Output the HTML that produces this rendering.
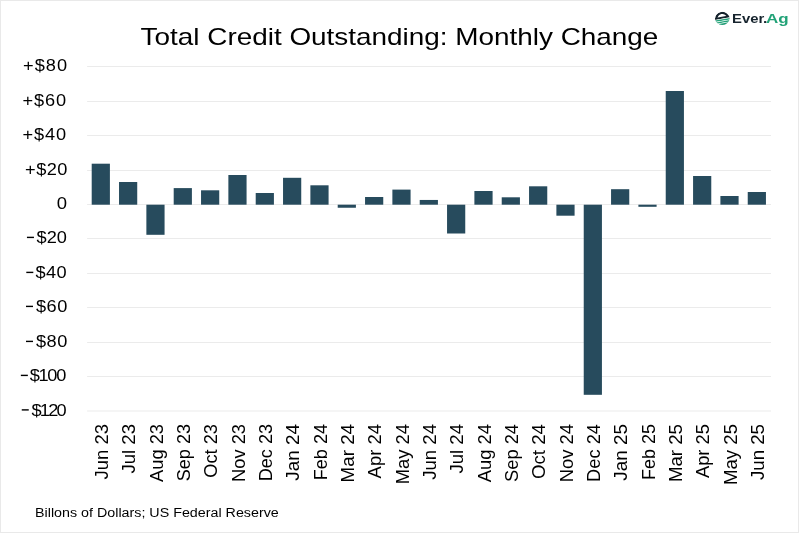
<!DOCTYPE html>
<html><head><meta charset="utf-8"><style>
html,body{margin:0;padding:0;}
body{width:799px;height:533px;position:relative;overflow:hidden;background:#fff;font-family:"Liberation Sans",sans-serif;color:#000;}
.frame{position:absolute;left:0;top:0;width:797px;height:531px;border:1px solid #e9e9e9;}
.title,.yl,.xl,.foot,.mn{filter:grayscale(1);}
.title{position:absolute;left:0px;width:799px;top:21.9px;text-align:center;font-size:24px;line-height:30px;white-space:nowrap;transform:scaleX(1.162);transform-origin:399.5px 50%;letter-spacing:0px;}
.yl{position:absolute;right:732.60px;width:100px;text-align:right;font-size:17px;line-height:20px;white-space:nowrap;transform-origin:100% 50%;}
.mn{position:absolute;width:7.0px;height:1.4px;background:#000;}
.xl{position:absolute;top:414.25px;width:100px;height:20px;text-align:right;font-size:17.5px;line-height:20px;white-space:nowrap;transform-origin:100% 50%;}
.foot{position:absolute;left:35px;top:504.9px;font-size:12.5px;line-height:16px;white-space:nowrap;transform:scaleX(1.143);transform-origin:0 50%;}
svg.c{position:absolute;left:0;top:0;}
.logo{position:absolute;left:712px;top:8px;}
.brand{position:absolute;left:731.9px;top:10.5px;font-size:13.5px;line-height:16px;font-weight:bold;white-space:nowrap;letter-spacing:0px;transform:scaleX(1.16);transform-origin:0 50%;}
.brand.d{color:#17242e;} .brand.g{color:#21a277;}
</style></head><body>
<div class="frame"></div>
<svg class="c" width="799" height="533" viewBox="0 0 799 533">
<rect x="87.13" y="66.00" width="683.87" height="1" fill="#ebebeb"/>
<rect x="87.13" y="101.00" width="683.87" height="1" fill="#ebebeb"/>
<rect x="87.13" y="135.00" width="683.87" height="1" fill="#ebebeb"/>
<rect x="87.13" y="170.00" width="683.87" height="1" fill="#ebebeb"/>
<rect x="87.13" y="204.00" width="683.87" height="1" fill="#ebebeb"/>
<rect x="87.13" y="238.00" width="683.87" height="1" fill="#ebebeb"/>
<rect x="87.13" y="273.00" width="683.87" height="1" fill="#ebebeb"/>
<rect x="87.13" y="307.00" width="683.87" height="1" fill="#ebebeb"/>
<rect x="87.13" y="342.00" width="683.87" height="1" fill="#ebebeb"/>
<rect x="87.13" y="376.00" width="683.87" height="1" fill="#ebebeb"/>
<rect x="87.13" y="410.50" width="683.87" height="1" fill="#ebebeb"/>
<rect x="91.70" y="163.70" width="18.2" height="41.00" fill="#274b5d"/>
<rect x="119.03" y="182.00" width="18.2" height="22.70" fill="#274b5d"/>
<rect x="146.37" y="204.70" width="18.2" height="30.10" fill="#274b5d"/>
<rect x="173.70" y="188.10" width="18.2" height="16.60" fill="#274b5d"/>
<rect x="201.04" y="190.30" width="18.2" height="14.40" fill="#274b5d"/>
<rect x="228.37" y="175.00" width="18.2" height="29.70" fill="#274b5d"/>
<rect x="255.71" y="193.00" width="18.2" height="11.70" fill="#274b5d"/>
<rect x="283.04" y="177.80" width="18.2" height="26.90" fill="#274b5d"/>
<rect x="310.38" y="185.30" width="18.2" height="19.40" fill="#274b5d"/>
<rect x="337.71" y="204.70" width="18.2" height="3.05" fill="#274b5d"/>
<rect x="365.05" y="197.00" width="18.2" height="7.70" fill="#274b5d"/>
<rect x="392.38" y="189.60" width="18.2" height="15.10" fill="#274b5d"/>
<rect x="419.72" y="199.95" width="18.2" height="4.75" fill="#274b5d"/>
<rect x="447.05" y="204.70" width="18.2" height="28.80" fill="#274b5d"/>
<rect x="474.39" y="191.00" width="18.2" height="13.70" fill="#274b5d"/>
<rect x="501.72" y="197.30" width="18.2" height="7.40" fill="#274b5d"/>
<rect x="529.06" y="186.30" width="18.2" height="18.40" fill="#274b5d"/>
<rect x="556.39" y="204.70" width="18.2" height="11.00" fill="#274b5d"/>
<rect x="583.73" y="204.70" width="18.2" height="190.10" fill="#274b5d"/>
<rect x="611.06" y="189.20" width="18.2" height="15.50" fill="#274b5d"/>
<rect x="638.40" y="204.70" width="18.2" height="2.10" fill="#274b5d"/>
<rect x="665.73" y="91.00" width="18.2" height="113.70" fill="#274b5d"/>
<rect x="693.07" y="176.00" width="18.2" height="28.70" fill="#274b5d"/>
<rect x="720.40" y="196.00" width="18.2" height="8.70" fill="#274b5d"/>
<rect x="747.74" y="192.00" width="18.2" height="12.70" fill="#274b5d"/>
<rect x="26.95" y="236.70" width="7.0" height="1.4" fill="#000"/>
<rect x="26.30" y="271.70" width="7.0" height="1.4" fill="#000"/>
<rect x="26.00" y="305.70" width="7.0" height="1.4" fill="#000"/>
<rect x="26.00" y="340.70" width="7.0" height="1.4" fill="#000"/>
<rect x="20.85" y="374.70" width="7.0" height="1.4" fill="#000"/>
<rect x="21.75" y="409.20" width="7.0" height="1.4" fill="#000"/>
</svg>
<div class="title">Total Credit Outstanding: Monthly Change</div>
<div class="yl" style="top:56.00px;transform:scaleX(1.0700);letter-spacing:0.912px;margin-right:-1.650px">+$80</div>
<div class="yl" style="top:90.50px;transform:scaleX(1.0700);letter-spacing:0.845px;margin-right:-1.070px">+$60</div>
<div class="yl" style="top:124.50px;transform:scaleX(1.0700);letter-spacing:0.845px;margin-right:-1.070px">+$40</div>
<div class="yl" style="top:159.50px;transform:scaleX(1.0700);letter-spacing:0.473px;margin-right:-1.286px">+$20</div>
<div class="yl" style="top:193.50px;transform:scaleX(1.0900);letter-spacing:0.000px;margin-right:-0.344px">0</div>
<div class="yl" style="top:227.50px;transform:scaleX(1.0700);letter-spacing:0.005px;margin-right:-0.329px">$20</div>
<div class="yl" style="top:262.50px;transform:scaleX(1.0700);letter-spacing:0.365px;margin-right:-0.745px">$40</div>
<div class="yl" style="top:296.50px;transform:scaleX(1.0700);letter-spacing:0.534px;margin-right:-1.362px">$60</div>
<div class="yl" style="top:331.50px;transform:scaleX(1.0700);letter-spacing:0.534px;margin-right:-1.362px">$80</div>
<div class="yl" style="top:365.50px;transform:scaleX(1.0700);letter-spacing:-1.209px;margin-right:1.024px">$100</div>
<div class="yl" style="top:400.80px;transform:scaleX(1.0700);letter-spacing:-1.612px;margin-right:1.587px">$120</div>
<div class="xl" style="left:2.10px;transform:rotate(-90deg) scaleX(1.0559)">Jun 23</div>
<div class="xl" style="left:29.43px;transform:rotate(-90deg) scaleX(1.0611)">Jul 23</div>
<div class="xl" style="left:56.76px;transform:rotate(-90deg) scaleX(1.0435)">Aug 23</div>
<div class="xl" style="left:84.09px;transform:rotate(-90deg) scaleX(1.0330)">Sep 23</div>
<div class="xl" style="left:111.42px;transform:rotate(-90deg) scaleX(1.0430)">Oct 23</div>
<div class="xl" style="left:138.75px;transform:rotate(-90deg) scaleX(1.0443)">Nov 23</div>
<div class="xl" style="left:166.08px;transform:rotate(-90deg) scaleX(1.0330)">Dec 23</div>
<div class="xl" style="left:193.41px;transform:rotate(-90deg) scaleX(1.0814)">Jan 24</div>
<div class="xl" style="left:220.74px;transform:rotate(-90deg) scaleX(1.0337)">Feb 24</div>
<div class="xl" style="left:248.07px;transform:rotate(-90deg) scaleX(1.0721)">Mar 24</div>
<div class="xl" style="left:275.40px;transform:rotate(-90deg) scaleX(1.0550)">Apr 24</div>
<div class="xl" style="left:302.73px;transform:rotate(-90deg) scaleX(1.0500)">May 24</div>
<div class="xl" style="left:330.06px;transform:rotate(-90deg) scaleX(1.0618)">Jun 24</div>
<div class="xl" style="left:357.39px;transform:rotate(-90deg) scaleX(1.0611)">Jul 24</div>
<div class="xl" style="left:384.72px;transform:rotate(-90deg) scaleX(1.0509)">Aug 24</div>
<div class="xl" style="left:412.05px;transform:rotate(-90deg) scaleX(1.0443)">Sep 24</div>
<div class="xl" style="left:439.38px;transform:rotate(-90deg) scaleX(1.0670)">Oct 24</div>
<div class="xl" style="left:466.71px;transform:rotate(-90deg) scaleX(1.0519)">Nov 24</div>
<div class="xl" style="left:494.04px;transform:rotate(-90deg) scaleX(1.0443)">Dec 24</div>
<div class="xl" style="left:521.37px;transform:rotate(-90deg) scaleX(1.0814)">Jan 25</div>
<div class="xl" style="left:548.70px;transform:rotate(-90deg) scaleX(1.0279)">Feb 25</div>
<div class="xl" style="left:576.03px;transform:rotate(-90deg) scaleX(1.0663)">Mar 25</div>
<div class="xl" style="left:603.36px;transform:rotate(-90deg) scaleX(1.0490)">Apr 25</div>
<div class="xl" style="left:630.69px;transform:rotate(-90deg) scaleX(1.0627)">May 25</div>
<div class="xl" style="left:658.02px;transform:rotate(-90deg) scaleX(1.0676)">Jun 25</div>
<div class="foot">Billons of Dollars; US Federal Reserve</div>
<svg class="logo" width="20" height="20" viewBox="0 0 20 20">
<defs><clipPath id="cc"><circle cx="10.3" cy="10.4" r="7.2"/></clipPath></defs>
<g transform="translate(0 10.4) scale(1 0.91) translate(0 -10.4)">
<g clip-path="url(#cc)"><g transform="rotate(-11 10.3 10.4)">
<circle cx="10.3" cy="10.4" r="6.0" fill="none" stroke="#15232d" stroke-width="2.4"/>
<rect x="0" y="10.3" width="21" height="11" fill="#fff"/>
<rect x="0" y="8.6" width="21" height="2.0" fill="#15232d"/>
<rect x="0" y="10.6" width="21" height="0.75" fill="#f2fdf8"/>
<rect x="0" y="11.35" width="21" height="1.6" fill="#22a279"/>
<rect x="0" y="12.95" width="21" height="0.75" fill="#e2f9f0"/>
<rect x="0" y="13.7" width="21" height="1.4" fill="#22a279"/>
<rect x="0" y="15.1" width="21" height="0.65" fill="#e2f9f0"/>
<rect x="0" y="15.75" width="21" height="3" fill="#1f9c74"/>
</g></g></g></svg>
<div class="brand d" style="left:731.9px;transform:scaleX(1.1)">Ever</div>
<div class="brand d" style="left:762.5px;">.</div>
<div class="brand g" style="left:765.8px;transform:scaleX(1.26)">Ag</div>
</body></html>
